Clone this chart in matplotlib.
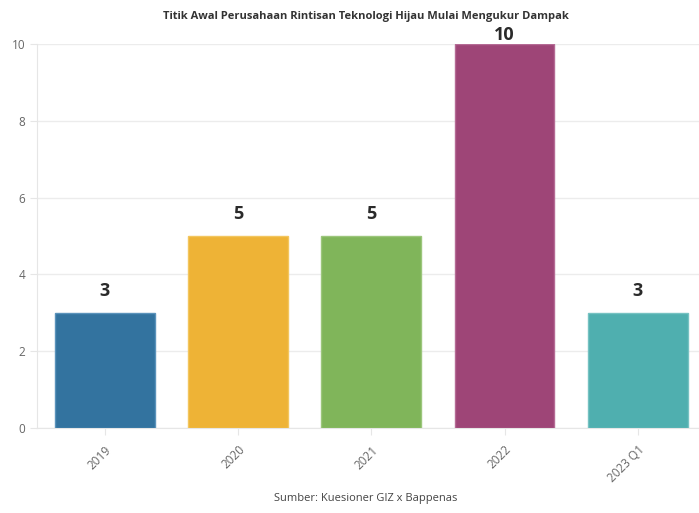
import matplotlib
matplotlib.use("Agg")
import matplotlib.pyplot as plt

plt.rcParams['font.family'] = ['Open Sans', 'DejaVu Sans']

# data
years = ['2019', '2020', '2021', '2022', '2023 Q1']
counts = [3, 5, 5, 10, 3]
colors = ['#33739f', '#eeb336', '#80b55a', '#9e4577', '#4fafaf']
edges = ['#5b93bb', '#f3c65e', '#9cc67c', '#b56b95', '#76c2c2']

fig = plt.figure(figsize=(6.99, 5.13), dpi=100)
ax = fig.add_axes([37 / 699, 1 - 428 / 513, 1 - 37 / 699, (428 - 44) / 513])

x = range(len(years))
bars = ax.bar(x, counts, width=0.75, color=colors, edgecolor=edges, linewidth=1, zorder=3)

ymax = 10
for b, v in zip(bars, counts):
    # label above bar, squeezed in when the bar reaches the top
    off = 0.0 if v >= ymax else 0.33
    ax.text(b.get_x() + b.get_width() / 2, v + off, str(v), ha='center', va='bottom',
            fontsize=13, fontweight='bold', color='#2a2a2a', clip_on=False)

ax.set_xlim(-0.51, 4.46)
ax.set_ylim(0, ymax)
ax.set_yticks([0, 2, 4, 6, 8, 10])
ax.set_xticks(list(x))
ax.set_xticklabels(years, rotation=45, ha='right', rotation_mode='anchor')
ax.tick_params(axis='both', labelsize=8.5, labelcolor='#666666', colors='#e6e6e6', length=5)
ax.tick_params(axis='x', pad=6)
ax.grid(axis='y', color='#ececec', linewidth=1, zorder=0)
for s in ['top', 'right']:
    ax.spines[s].set_visible(False)
ax.spines['left'].set_color('#e6e6e6')
ax.spines['bottom'].set_color('#e6e6e6')

fig.text(0.523, 1 - 17 / 513, 'Titik Awal Perusahaan Rintisan Teknologi Hijau Mulai Mengukur Dampak',
         ha='center', va='center', fontsize=8, fontweight='bold', color='#333333')
fig.text(0.523, 1 - 498 / 513, 'Sumber: Kuesioner GIZ x Bappenas',
         ha='center', va='center', fontsize=8, color='#444444')

fig.savefig('out.png', dpi=100)
